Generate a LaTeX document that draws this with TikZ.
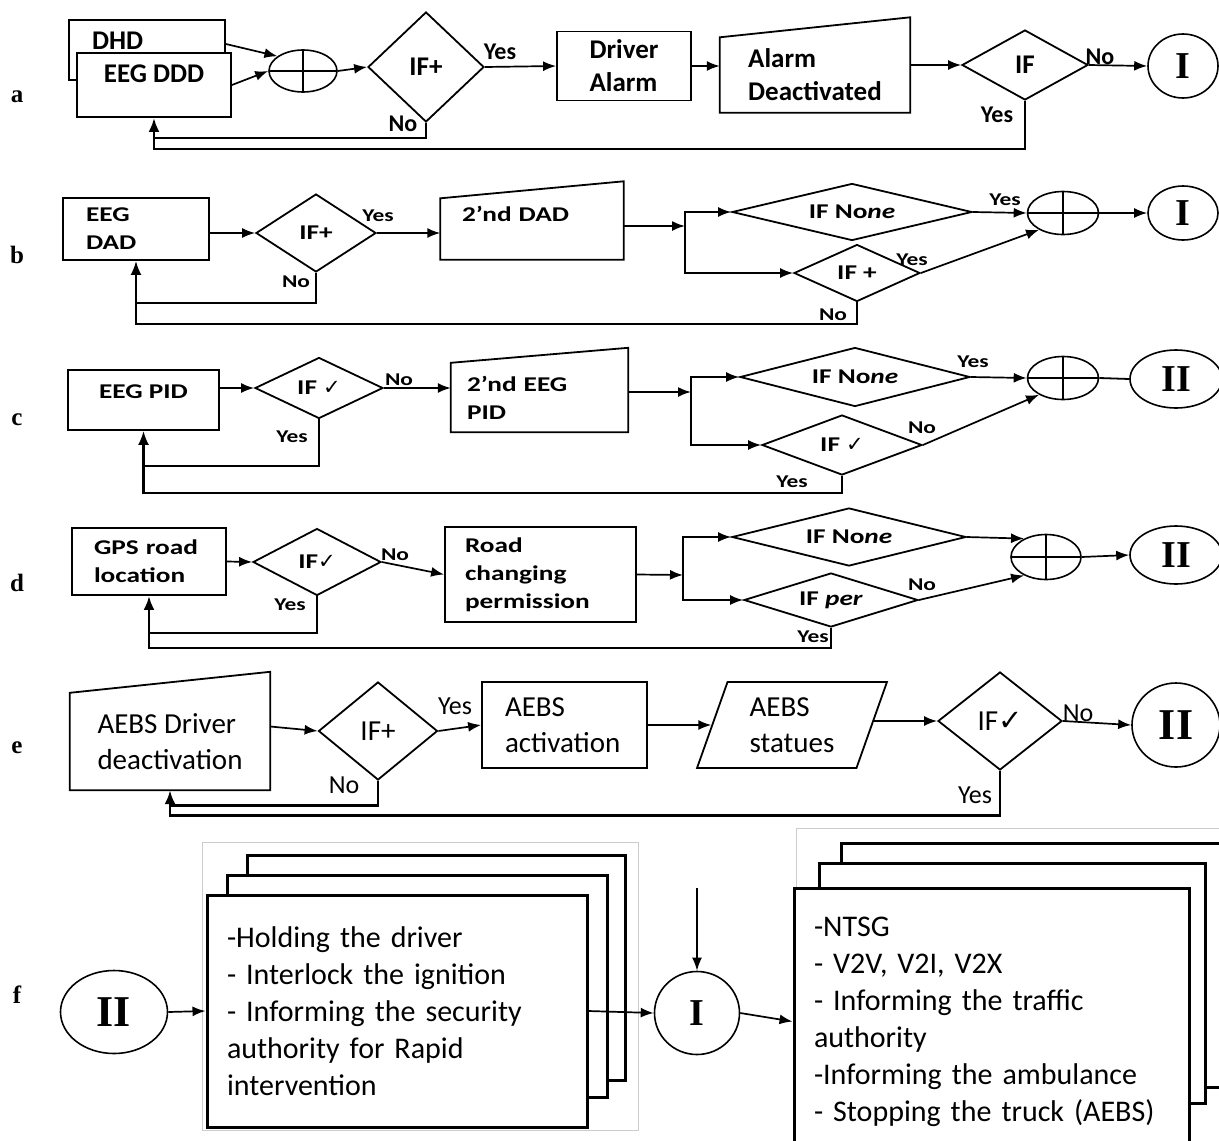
\documentclass[tikz,border=0pt]{standalone}
\usepackage{fontspec}
\setmainfont{Liberation Serif}
\newfontfamily\calfont{Carlito}
\newfontfamily\calwide[FakeStretch=1.3]{Carlito}
\newfontfamily\symfont{DejaVu Sans}
\usepackage{tikz}
\usetikzlibrary{shapes.geometric, arrows.meta, positioning}

\newcommand{\fnta}{\calfont\bfseries\fontsize{27}{33}\selectfont}
\newcommand{\fntb}{\calwide\bfseries\fontsize{21}{28}\selectfont}
\newcommand{\fnte}{\calfont\fontsize{29}{36}\selectfont}
\newcommand{\fntf}{\calfont\fontsize{30}{37}\selectfont}
\newcommand{\fntya}{\calfont\bfseries\fontsize{24}{26}\selectfont}
\newcommand{\fntyb}{\calwide\bfseries\fontsize{18}{20}\selectfont}
\newcommand{\fntye}{\calfont\fontsize{26}{28}\selectfont}
\newcommand{\fntrom}{\rmfamily\bfseries\fontsize{38}{40}\selectfont}
\newcommand{\fntromf}{\rmfamily\bfseries\fontsize{44}{46}\selectfont}
\newcommand{\fntrow}{\rmfamily\bfseries\fontsize{25}{27}\selectfont}
\newcommand{\chk}{{\symfont\mdseries ✓}}

\begin{document}
\begin{tikzpicture}[x=1pt,y=-1pt,
  box/.style={draw, line width=1.8pt, rectangle, inner sep=0pt, align=left, fill=white},
  dec/.style={draw, line width=1.8pt, diamond, inner sep=0pt, shape aspect=2},
  flat/.style={dec, shape aspect=4},
  man/.style={inner sep=0pt, align=left},
  shp/.style={line width=1.8pt},
  sumnode/.style={draw, ellipse, line width=1.6pt, inner sep=0pt,
    path picture={\draw[line width=1.6pt] (path picture bounding box.north) -- (path picture bounding box.south)
      (path picture bounding box.west) -- (path picture bounding box.east);}},
  conn/.style={draw, ellipse, line width=1.6pt, inner sep=0pt, font=\fntrom},
  lbl/.style={inner sep=0pt},
  flow/.style={line width=1.7pt, -{Latex[length=13pt,width=10pt]}},
  back/.style={line width=2.2pt, -{Latex[length=14pt,width=11pt]}},
  stk/.style={draw, line width=3pt, fill=white, inner sep=0pt, align=left}]
\useasboundingbox[fill=white] (0,0) rectangle (1219,1141);

% row a
\node (la) [lbl, font=\fntrow] at (17,97) {a};
\begin{scope}[nodes={font=\fnta}]
  \node (dhd) [box, minimum width=156pt, text width=110pt, text height=29pt, text depth=31pt] at (147,50) {DHD};
  \node (eegddd) [box, minimum width=154pt, text height=29pt, text depth=35pt, align=center] at (154,85) {EEG DDD};
  \node (suma) [sumnode, minimum width=68pt, minimum height=42pt] at (303,71) {};
  \node (ifa1) [dec, minimum width=116pt, minimum height=110pt] at (426,67) {IF+};
  \node (drv) [box, minimum width=134pt, minimum height=69pt] at (624,66) {Driver\\Alarm};
  \node (deact) [man, minimum width=190pt, minimum height=75pt] at (815,75) {Alarm\\Deactivated};
  \node (ifa2) [dec, minimum width=126pt, minimum height=70pt] at (1025,65) {IF};
  \node (Ia) [conn, minimum width=70pt, minimum height=64pt] at (1183,66) {I};
\end{scope}
\draw[shp] (deact.south west) -- (deact.south east) -- ([yshift=20pt]deact.north east) -- (deact.north west) -- cycle;
\node (ya1) [lbl, font=\fntya] at (500,52) {Yes};
\node (na1) [lbl, font=\fntya] at (403,124) {No};
\node (na2) [lbl, font=\fntya] at (1100,57) {No};
\node (ya2) [lbl, font=\fntya] at (997,115) {Yes};
\draw[flow] ([yshift=6pt]dhd.east) -- (suma.150);
\draw[flow] (eegddd.east) -- (suma.west);
\draw[flow] (suma.east) -- (ifa1.west);
\draw[flow] (ifa1.east) -- (drv.west);
\draw[flow] (drv.east) -- (drv.east -| deact.west);
\draw[flow] (deact.east |- ifa2.west) -- (ifa2.west);
\draw[flow] (ifa2.east) -- (Ia.west);
\draw[back, -, line width=2.8pt] (ifa1.south) |- ([yshift=-20pt]eegddd.south);
\draw[back, line width=2.8pt] (ifa2.south) |- ([yshift=-31pt]eegddd.south) -- (eegddd.south);

% row b
\node (lb) [lbl, font=\fntrow] at (17,255) {b};
\begin{scope}[nodes={font=\fntb}]
  \node (eegdad) [box, minimum width=146pt, minimum height=62pt, text width=100pt] at (136,229) {EEG\\DAD};
  \node (ifb1) [dec, minimum width=120pt, minimum height=78pt] at (316,233) {IF+};
  \node (dad2) [man, minimum width=183pt, text width=140pt, text height=23pt, text depth=38pt] at (532,229) {2’nd DAD};
  \node (ifnb) [flat, minimum width=240pt, minimum height=57pt] at (852,212) {IF No\textit{ne}};
  \node (ifpb) [flat, minimum width=126pt, minimum height=57pt] at (857,273) {IF +};
  \node (sumb) [sumnode, minimum width=71pt, minimum height=43pt] at (1063,213) {};
  \node (Ib) [conn, minimum width=70pt, minimum height=54pt] at (1183,213) {I};
\end{scope}
\coordinate (jb) at (685,226);
\draw[shp] (dad2.south west) -- (dad2.south east) -- ([yshift=17pt]dad2.north east) -- (dad2.north west) -- cycle;
\node (yb1) [lbl, font=\fntyb] at (378,216) {Yes};
\node (nb1) [lbl, font=\fntyb] at (296,282) {No};
\node (yb2) [lbl, font=\fntyb] at (1005,200) {Yes};
\node (yb3) [lbl, font=\fntyb] at (912,260) {Yes};
\node (nb2) [lbl, font=\fntyb] at (833,315) {No};
\draw[flow] (eegdad.east |- ifb1.west) -- (ifb1.west);
\draw[flow] (ifb1.east) -- (ifb1.east -| dad2.west);
\draw[flow] (dad2.east |- jb) -- (jb);
\draw[flow] (jb) |- (ifnb.west);
\draw[flow] (jb) |- (ifpb.west);
\draw[flow] (ifnb.east) -- (sumb.west);
\draw[flow] (ifpb.east) -- (sumb.215);
\draw[flow] (sumb.east) -- (Ib.west);
\draw[back, -] (ifb1.south) |- ([yshift=-42pt]eegdad.south);
\draw[back] (ifpb.south) |- ([yshift=-63pt]eegdad.south) -- (eegdad.south);

% row c
\node (lc) [lbl, font=\fntrow] at (17,420) {c};
\begin{scope}[nodes={font=\fntb}]
  \node (eegpid) [box, minimum width=151pt, text height=28pt, text depth=32pt] at (143.5,400) {EEG PID};
  \node (ifc1) [dec, minimum width=128pt, minimum height=61pt] at (319,388) {IF \chk};
  \node (pid2) [man, minimum width=177pt, minimum height=69pt, text width=145pt] at (539.5,397.5) {2’nd EEG\\PID};
  \node (ifnc) [flat, minimum width=230pt, minimum height=59pt] at (855,377) {IF No\textit{ne}};
  \node (ifcc) [flat, minimum width=160pt, minimum height=60pt] at (842,445) {IF \chk};
  \node (sumc) [sumnode, minimum width=71pt, minimum height=43pt] at (1063,378) {};
  \node (IIc) [conn, minimum width=92pt, minimum height=58pt] at (1176,379) {II};
\end{scope}
\coordinate (jc) at (691,392);
\draw[shp] (pid2.south west) -- (pid2.south east) -- ([yshift=15pt]pid2.north east) -- (pid2.north west) -- cycle;
\node (nc1) [lbl, font=\fntyb] at (399,380) {No};
\node (yc1) [lbl, font=\fntyb] at (292,437) {Yes};
\node (yc2) [lbl, font=\fntyb] at (973,362) {Yes};
\node (nc2) [lbl, font=\fntyb] at (922,428) {No};
\node (yc3) [lbl, font=\fntyb] at (792,482) {Yes};
\draw[flow] (eegpid.east |- ifc1.west) -- (ifc1.west);
\draw[flow] (ifc1.east) -- (ifc1.east -| pid2.west);
\draw[flow] (pid2.east |- jc) -- (jc);
\draw[flow] (jc) |- (ifnc.west);
\draw[flow] (jc) |- (ifcc.west);
\draw[flow] (ifnc.east) -- (sumc.west);
\draw[flow] (ifcc.east) -- (sumc.215);
\draw[shp] (sumc.east) -- (IIc.west);
\draw[back, -] (ifc1.south) |- ([yshift=-35pt]eegpid.south);
\draw[back] (ifcc.south) |- ([yshift=-62pt]eegpid.south) -- (eegpid.south);

% row d
\node (ld) [lbl, font=\fntrow] at (17,583) {d};
\begin{scope}[nodes={font=\fntb}]
  \node (gps) [box, minimum width=154pt, minimum height=67pt, text width=110pt] at (149,561.5) {GPS road\\location};
  \node (ifd1) [dec, minimum width=128pt, minimum height=67pt] at (317,562) {IF\chk};
  \node (road) [box, minimum width=191pt, minimum height=95pt, text width=151pt] at (540.5,574.5) {Road\\changing\\permission};
  \node (ifnd) [flat, minimum width=234pt, minimum height=58pt] at (849,537) {IF No\textit{ne}};
  \node (ifpd) [flat, minimum width=174pt, minimum height=54pt] at (831,600) {IF \textit{per}};
  \node (sumd) [sumnode, minimum width=70pt, minimum height=45pt] at (1046,557) {};
  \node (IId) [conn, minimum width=92pt, minimum height=58pt] at (1176,555) {II};
\end{scope}
\coordinate (jd) at (683,575);
\node (nd1) [lbl, font=\fntyb] at (395,555) {No};
\node (yd1) [lbl, font=\fntyb] at (290,605) {Yes};
\node (nd2) [lbl, font=\fntyb] at (922,585) {No};
\node (yd2) [lbl, font=\fntyb] at (813,637) {Yes};
\draw[flow] (gps.east) -- (ifd1.west);
\draw[flow] (ifd1.east) -- (road.west);
\draw[flow] (road.east) -- (jd);
\draw[flow] (jd) |- (ifnd.west);
\draw[flow] (jd) |- (ifpd.west);
\draw[flow] (ifnd.east) -- (sumd.140);
\draw[flow] (ifpd.east) -- (sumd.220);
\draw[flow] (sumd.east) -- (IId.west);
\draw[back, -, line width=2.8pt] (ifd1.south) |- ([yshift=-37pt]gps.south);
\draw[back, line width=2.8pt] (ifpd.south) |- ([yshift=-52pt]gps.south) -- (gps.south);

% row e
\node (le) [lbl, font=\fntrow] at (17,748) {e};
\begin{scope}[nodes={font=\fnte}]
  \node (aebsd) [man, minimum width=200pt, minimum height=97pt] at (170,741.5) {AEBS Driver\\deactivation};
  \node (ife1) [dec, minimum width=119pt, minimum height=98pt] at (378,731) {IF+};
  \node (act) [box, minimum width=165pt, minimum height=86pt, text width=119pt] at (564.5,725) {AEBS\\activation};
  \node (stat) [trapezium, trapezium left angle=70, trapezium right angle=110, trapezium stretches=true,
    draw, line width=1.8pt, inner sep=0pt, minimum width=190pt, minimum height=86pt, align=left] at (792,725) {AEBS\\statues};
  \node (ife2) [dec, minimum width=124pt, minimum height=98pt] at (1000,721) {IF\chk};
  \node (IIe) [conn, font=\fntromf, minimum width=88pt, minimum height=84pt] at (1176,725) {II};
\end{scope}
\draw[shp] (aebsd.south west) -- (aebsd.south east) -- ([yshift=21pt]aebsd.north east) -- (aebsd.north west) -- cycle;
\node (ye1) [lbl, font=\fntye] at (455,706) {Yes};
\node (ne1) [lbl, font=\fntye] at (344,785) {No};
\node (ne2) [lbl, font=\fntye] at (1078,713) {No};
\node (ye2) [lbl, font=\fntye] at (975,795) {Yes};
\draw[flow] ([yshift=15pt]aebsd.east) -- (ife1.west);
\draw[flow] (ife1.east) -- (act.west);
\draw[flow] (act.east) -- (stat.west);
\draw[flow] (stat.east |- ife2.west) -- (ife2.west);
\draw[flow] (ife2.east) -- (IIe.west);
\draw[back, -, line width=2.8pt] (ife1.south) |- ([yshift=-15pt]aebsd.south);
\draw[back, line width=2.8pt] (ife2.south) |- ([yshift=-25pt]aebsd.south) -- (aebsd.south);

% row f
\node (lf) [lbl, font=\fntrow] at (17,995) {f};
\draw[gray!40, line width=1pt] (202,842) rectangle (638,1130);
\draw[gray!40, line width=1pt] (796,828) rectangle (1232,1150);
\node (s1c) [stk, minimum width=378pt, minimum height=225pt] at (436,967.5) {};
\node (s1b) [stk, minimum width=380pt, minimum height=222pt] at (417,986) {};
\node (acts1) [stk, minimum width=380pt, minimum height=232pt, text width=340pt, font=\fntf] at (397,1011)
  {-Holding the driver\\- Interlock the ignition\\- Informing the security\\authority for Rapid\\intervention};
\node (s2c) [stk, minimum width=394pt, minimum height=244pt] at (1038,965) {};
\node (s2b) [stk, minimum width=386pt, minimum height=240pt] at (1012,983) {};
\node (acts2) [stk, minimum width=395pt, minimum height=267pt, text width=355pt, font=\fntf] at (991.5,1021.5)
  {-NTSG\\- V2V, V2I, V2X\\- Informing the traffic\\authority\\-Informing the ambulance\\- Stopping the truck (AEBS)};
\node (IIf) [conn, font=\fntromf, minimum width=107pt, minimum height=83pt] at (114,1012) {II};
\node (If) [conn, minimum width=85pt, minimum height=83pt] at (697,1013) {I};
\coordinate (fin) at (697,888);
\draw[flow] (IIf.east) -- (acts1.west);
\draw[flow] (acts1.east) -- (If.west);
\draw[flow] (fin) -- (If.north);
\draw[flow] (If.east) -- (acts2.west);
\end{tikzpicture}
\end{document}
